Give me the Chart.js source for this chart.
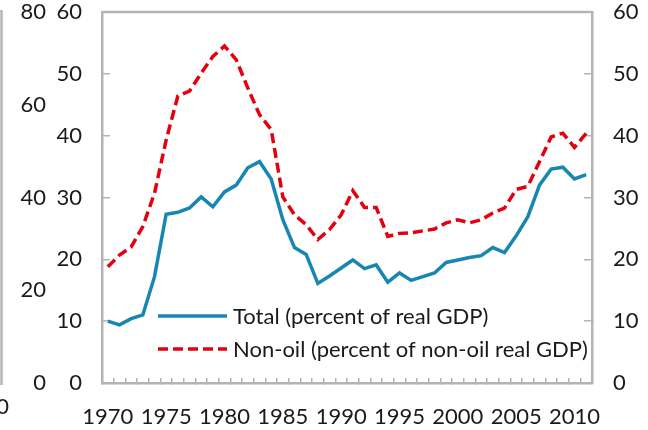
<!DOCTYPE html>
<html>
<head>
<meta charset="utf-8">
<style>
  html, body { margin: 0; padding: 0; background: #fff; }
  #myChart { display: block; }
</style>
<script src="https://cdn.jsdelivr.net/npm/chart.js@4/dist/chart.umd.min.js"></script>
</head>
<body>
<canvas id="myChart" width="648" height="430"></canvas>
<script>
'use strict'

let years = ['1970', '1971', '1972', '1973', '1974', '1975', '1976', '1977', '1978', '1979',
    '1980', '1981', '1982', '1983', '1984', '1985', '1986', '1987', '1988', '1989',
    '1990', '1991', '1992', '1993', '1994', '1995', '1996', '1997', '1998', '1999',
    '2000', '2001', '2002', '2003', '2004', '2005', '2006', '2007', '2008', '2009',
    '2010', '2011'];
let shownYears = ['1970', '1975', '1980', '1985', '1990', '1995', '2000', '2005', '2010'];

let totalGdp = [10.0, 9.4, 10.4, 11.0, 17.2, 27.3, 27.6, 28.3, 30.1, 28.5,
    30.9, 32.0, 34.8, 35.8, 33.0, 26.4, 21.9, 20.8, 16.1, 17.3,
    18.6, 19.9, 18.5, 19.1, 16.3, 17.8, 16.6, 17.2, 17.8, 19.5,
    19.9, 20.3, 20.6, 21.9, 21.1, 23.8, 26.9, 32.0, 34.6, 34.9,
    33.0, 33.7];
let nonOilGdp = [18.8, 20.7, 22.0, 25.3, 30.7, 39.3, 46.4, 47.2, 50.1, 52.8,
    54.5, 52.3, 47.7, 43.4, 41.0, 30.1, 27.2, 25.6, 23.2, 24.8,
    27.2, 31.1, 28.4, 28.4, 23.7, 24.2, 24.3, 24.6, 24.9, 25.9,
    26.4, 25.9, 26.4, 27.5, 28.3, 31.3, 31.8, 35.8, 39.8, 40.4,
    38.1, 40.4];

let seriesNames = ['Total (percent of real GDP)', 'Non-oil (percent of non-oil real GDP)'];

let blue = '#1787b1';
let red = '#e3000f';
let gray = '#b4b4b4';
let textColor = '#1a1a1a';

Chart.defaults.font.family = 'Lato';
Chart.defaults.font.size = 22;
Chart.defaults.color = textColor;

// box top, old chart leftovers and the in-plot legend
let extras = {
    id: 'extras',
    afterDatasetsDraw(chart) {
        let c = chart.ctx;
        let a = chart.chartArea;
        c.save();
        c.strokeStyle = gray;
        c.lineWidth = 2.5;
        c.beginPath();
        c.moveTo(a.left, a.top);
        c.lineTo(a.right, a.top);
        c.stroke();
        // edge of the neighbouring chart
        c.beginPath();
        c.moveTo(1.5, a.top - 2);
        c.lineTo(1.5, a.bottom + 2);
        c.stroke();
        c.fillStyle = textColor;
        c.font = '22px Lato';
        c.textAlign = 'right';
        c.textBaseline = 'middle';
        c.fillText('2010', 9, 407);

        // legend
        let rows = [
            { y: 316, color: blue, dash: [] },
            { y: 349, color: red, dash: [10, 5] }
        ];
        c.textAlign = 'left';
        rows.forEach((r, i) => {
            c.strokeStyle = r.color;
            c.lineWidth = 3.5;
            c.setLineDash(r.dash);
            c.beginPath();
            c.moveTo(158, r.y);
            c.lineTo(227, r.y);
            c.stroke();
            c.setLineDash([]);
            c.fillText(seriesNames[i], 233, r.y + 1);
        });
        c.restore();
    }
};

function fixWidth(w) {
    return function (s) {
        s.width = w;
        s.paddingTop = 0;
        s.paddingBottom = 0;
    };
}

let ctx = document.getElementById('myChart').getContext('2d');
let myChart = new Chart(ctx, {
    type: 'line',
    data: {
        labels: years,
        datasets: [{
            label: seriesNames[0],
            data: totalGdp,
            borderColor: blue,
            borderWidth: 3.5,
            pointRadius: 0,
            tension: 0,
            yAxisID: 'y'
        }, {
            label: seriesNames[1],
            data: nonOilGdp,
            borderColor: red,
            borderWidth: 3.5,
            borderDash: [10, 5],
            pointRadius: 0,
            tension: 0,
            yAxisID: 'y'
        }]
    },
    options: {
        responsive: false,
        animation: false,
        devicePixelRatio: 1,
        layout: { padding: { top: 12, right: 0, bottom: 0, left: 0 } },
        plugins: {
            legend: { display: false },
            tooltip: { enabled: false }
        },
        scales: {
            x: {
                offset: true,
                grid: { offset: true, drawOnChartArea: false, tickLength: -5, color: gray, lineWidth: 1.5 },
                border: { color: gray, width: 2.5 },
                ticks: {
                    autoSkip: false,
                    maxRotation: 0,
                    padding: 26,
                    callback: function (v, i) {
                        return shownYears.includes(years[i]) ? years[i] : '';
                    }
                },
                afterFit: function (s) {
                    s.height = 47;
                    s.paddingLeft = 0;
                    s.paddingRight = 0;
                }
            },
            yOld: {
                position: 'left',
                weight: 1,
                min: 0,
                max: 80,
                ticks: { stepSize: 20, padding: 6 },
                grid: { display: false, drawTicks: false },
                border: { display: false },
                afterFit: fixWidth(52)
            },
            y: {
                position: 'left',
                weight: 0,
                min: 0,
                max: 60,
                ticks: { stepSize: 10, padding: 28 },
                grid: { drawOnChartArea: false, tickLength: -8, color: gray, lineWidth: 1.5 },
                border: { color: gray, width: 2.5 },
                afterFit: fixWidth(50)
            },
            y2: {
                position: 'right',
                min: 0,
                max: 60,
                ticks: { stepSize: 10, padding: 29 },
                grid: { drawOnChartArea: false, tickLength: -8, color: gray, lineWidth: 1.5 },
                border: { color: gray, width: 2.5 },
                afterFit: fixWidth(56)
            }
        }
    },
    plugins: [extras]
});
</script>
</body>
</html>
